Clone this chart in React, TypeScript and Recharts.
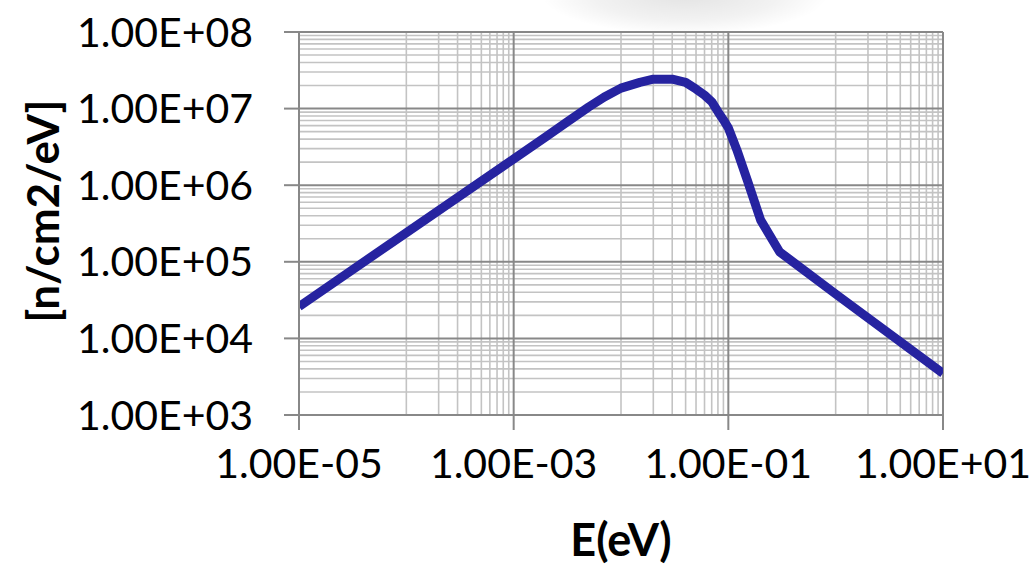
import React from 'react';
import { LineChart, Line, XAxis, YAxis, ReferenceLine, Label } from 'recharts';

// neutron flux spectrum
const energy = [1e-5, 1e-4, 1e-3, 2e-3, 3e-3, 5e-3, 7e-3, 1e-2, 1.5e-2, 2e-2, 3e-2, 4e-2, 5e-2, 6e-2, 7e-2, 8e-2, 9e-2, 0.1, 0.12, 0.15, 0.2, 0.3, 1, 10];
const flux = [2.6e4, 2.4e5, 2.2e6, 4.3e6, 6.4e6, 1.05e7, 1.42e7, 1.85e7, 2.2e7, 2.42e7, 2.42e7, 2.2e7, 1.8e7, 1.5e7, 1.23e7, 9.1e6, 7.1e6, 5.6e6, 2.9e6, 1.17e6, 3.5e5, 1.35e5, 3.8e4, 3.5e3];

const xTicks = [1e-5, 1e-3, 1e-1, 1e1];
const yTicks = [1e3, 1e4, 1e5, 1e6, 1e7, 1e8];

// minor grid: x every 1..9 inside the odd decades, y 2..9 inside every decade
const xMinorDecades = [1e-4, 1e-2, 1e0];
const yMinorDecades = [1e3, 1e4, 1e5, 1e6, 1e7];
const steps = [1, 2, 3, 4, 5, 6, 7, 8, 9];

const xMinor = xMinorDecades.flatMap((d) => steps.map((k) => k * d));
const yMinor = yMinorDecades.flatMap((d) => steps.slice(1).map((k) => k * d));

const data = energy.map((e, i) => ({ e, f: flux[i] }));

const MAJOR = '#888888';
const MINOR = '#c3c3c3';
const FONT = 'Lato, "Open Sans", sans-serif';

const fmt = (v: number) => {
  const [m, ex] = v.toExponential(2).split('e');
  const n = parseInt(ex, 10);
  return `${m}E${n < 0 ? '-' : '+'}${String(Math.abs(n)).padStart(2, '0')}`;
};

const YTitle = () => (
  <text
    x={42}
    y={211}
    transform="rotate(-90, 42, 211)"
    textAnchor="middle"
    dominantBaseline="central"
    fontFamily={FONT}
    fontWeight="bold"
    fontSize={44}
    fill="#000"
  >
    [n/cm2/eV]
  </text>
);

const App = () => {
  return (
    <div style={{ position: 'absolute', left: 0, top: 0, width: 1036, height: 568, background: '#fff', overflow: 'hidden' }}>
      <div
        style={{
          position: 'absolute',
          left: 540,
          top: -45,
          width: 290,
          height: 80,
          background: 'radial-gradient(ellipse at center, rgba(0,0,0,0.11) 0%, rgba(0,0,0,0.05) 45%, rgba(0,0,0,0) 70%)',
        }}
      />
      <div style={{ position: 'absolute', left: 0, top: 0 }}>
        <LineChart width={1036} height={568} data={data} margin={{ top: 32, right: 93, bottom: 0, left: 0 }}>
          <XAxis
            dataKey="e"
            type="number"
            scale="log"
            domain={[1e-5, 10]}
            ticks={xTicks}
            tickFormatter={fmt}
            height={153}
            tickSize={15}
            tickMargin={19}
            axisLine={{ stroke: MAJOR, strokeWidth: 2 }}
            tickLine={{ stroke: MAJOR, strokeWidth: 2 }}
            tick={{ fill: '#000', fontSize: 41, fontFamily: FONT }}
            allowDataOverflow
          >
            <Label
              value="E(eV)"
              position="insideBottom"
              offset={12}
              fill="#000"
              fontSize={45}
              fontWeight="bold"
              fontFamily={FONT}
            />
          </XAxis>
          <YAxis
            type="number"
            scale="log"
            domain={[1e3, 1e8]}
            ticks={yTicks}
            tickFormatter={fmt}
            width={299}
            tickSize={15}
            tickMargin={31}
            axisLine={{ stroke: MAJOR, strokeWidth: 2 }}
            tickLine={{ stroke: MAJOR, strokeWidth: 2 }}
            tick={{ fill: '#000', fontSize: 41, fontFamily: FONT }}
            allowDataOverflow
            label={<YTitle />}
          />
          {yMinor.map((v) => (
            <ReferenceLine key={`ym${v}`} y={v} stroke={MINOR} strokeWidth={1.6} />
          ))}
          {xMinor.map((v) => (
            <ReferenceLine key={`xm${v}`} x={v} stroke={MINOR} strokeWidth={1.6} />
          ))}
          {yTicks.map((v) => (
            <ReferenceLine key={`yM${v}`} y={v} stroke={MAJOR} strokeWidth={2} />
          ))}
          {xTicks.map((v) => (
            <ReferenceLine key={`xM${v}`} x={v} stroke={MAJOR} strokeWidth={2} />
          ))}
          <Line
            type="linear"
            dataKey="f"
            stroke="#2623A0"
            strokeWidth={9}
            strokeLinejoin="round"
            dot={false}
            activeDot={false}
            isAnimationActive={false}
          />
        </LineChart>
      </div>
    </div>
  );
};

export default App;
